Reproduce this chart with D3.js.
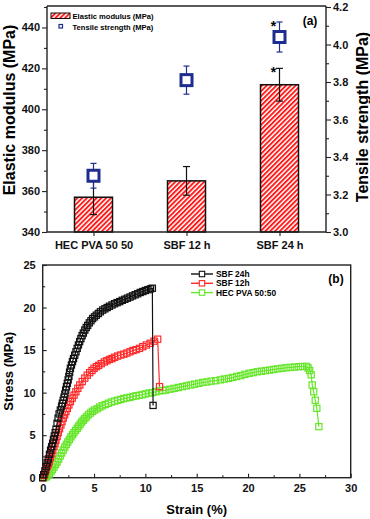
<!DOCTYPE html>
<html><head><meta charset="utf-8">
<script src="https://cdn.jsdelivr.net/npm/d3@7/dist/d3.min.js"></script>
<style>
html,body{margin:0;padding:0;background:#fff;}
svg{display:block;font-family:"Liberation Sans",Arial,sans-serif;font-weight:bold;}
</style></head>
<body><svg id="c" width="370" height="519"></svg>
<script>
// ---------- Panel (a) data ----------
const categories = ["HEC PVA 50 50", "SBF 12 h", "SBF 24 h"];
const modulus = [357, 365, 412];
const modulusErr = [8.5, 7, 8];
const tensile = [3.30, 3.81, 4.04];
const tensileErr = [0.066, 0.075, 0.08];
const significant = [false, false, true];
const modulusTicks = [340, 360, 380, 400, 420, 440];
const modulusMinor = [350, 370, 390, 410, 430, 450];
const tensileTicks = [3.0, 3.2, 3.4, 3.6, 3.8, 4.0, 4.2];
const tensileMinor = [3.1, 3.3, 3.5, 3.7, 3.9, 4.1];

// ---------- Panel (b) data : [strain %, stress MPa] ----------
const sbf24h = [[0,0],[0.1,0.35],[0.22,0.8],[0.33,1.3],[0.44,1.75],[0.55,2.2],[0.66,2.75],[0.77,3.25],[0.87,3.65],[0.97,4.05],[1.05,4.5],[1.13,4.9],[1.22,5.3],[1.3,5.7],[1.4,6.4],[1.5,7.0],[1.6,7.5],[1.72,7.95],[1.84,8.4],[1.92,8.75],[2.0,9.1],[2.08,9.45],[2.16,9.85],[2.24,10.3],[2.32,10.7],[2.4,11.1],[2.48,11.5],[2.55,11.9],[2.62,12.4],[2.7,12.85],[2.8,13.25],[2.9,13.65],[3.0,14.0],[3.12,14.4],[3.24,14.8],[3.36,15.2],[3.48,15.6],[3.6,16.0],[3.72,16.35],[3.84,16.7],[3.96,17.0],[4.1,17.35],[4.24,17.65],[4.38,17.9],[4.54,18.2],[4.7,18.45],[4.86,18.7],[5.04,18.9],[5.22,19.1],[5.42,19.3],[5.62,19.5],[5.84,19.7],[6.06,19.85],[6.28,20.0],[6.5,20.15],[6.75,20.3],[7.0,20.45],[7.25,20.58],[7.5,20.7],[7.75,20.85],[8.0,20.97],[8.25,21.1],[8.5,21.23],[8.75,21.37],[9.0,21.5],[9.25,21.62],[9.5,21.77],[9.75,21.88],[10.0,22.0],[10.25,22.1],[10.5,22.2],[10.68,22.27],[10.75,8.5]];
const sbf12h = [[0,0],[0.11,0.25],[0.22,0.55],[0.33,0.95],[0.45,1.3],[0.55,1.6],[0.64,1.9],[0.75,2.35],[0.87,2.8],[0.98,3.2],[1.1,3.65],[1.2,4.0],[1.29,4.4],[1.4,4.85],[1.51,5.3],[1.64,5.75],[1.77,6.2],[1.88,6.6],[2.0,7.0],[2.13,7.4],[2.26,7.77],[2.4,8.15],[2.55,8.55],[2.7,8.95],[2.87,9.35],[3.05,9.7],[3.23,10.1],[3.42,10.5],[3.61,10.9],[3.85,11.3],[4.1,11.7],[4.34,12.05],[4.58,12.35],[4.8,12.6],[5.0,12.85],[5.23,13.05],[5.45,13.2],[5.7,13.4],[6.0,13.6],[6.25,13.75],[6.5,13.9],[6.75,14.0],[7.0,14.15],[7.3,14.3],[7.6,14.42],[7.9,14.52],[8.2,14.65],[8.5,14.8],[8.8,14.95],[9.1,15.05],[9.43,15.2],[9.75,15.4],[10.1,15.6],[10.47,15.8],[10.85,16.05],[11.2,16.28],[11.38,10.7]];
const hecPva = [[0.2,0.0],[0.35,0.1],[0.5,0.25],[0.65,0.45],[0.8,0.7],[0.95,0.95],[1.1,1.25],[1.25,1.55],[1.4,1.85],[1.55,2.2],[1.7,2.55],[1.85,2.9],[2.0,3.25],[2.15,3.6],[2.3,3.9],[2.45,4.2],[2.6,4.5],[2.75,4.8],[2.9,5.05],[3.05,5.3],[3.2,5.55],[3.36,5.8],[3.5,6.05],[3.65,6.3],[3.8,6.55],[3.95,6.75],[4.1,6.95],[4.26,7.15],[4.45,7.4],[4.65,7.6],[4.85,7.8],[5.05,7.95],[5.3,8.1],[5.55,8.3],[5.8,8.45],[6.1,8.6],[6.4,8.75],[6.7,8.9],[7.0,9.0],[7.3,9.1],[7.6,9.2],[7.9,9.3],[8.2,9.38],[8.5,9.45],[8.8,9.55],[9.1,9.62],[9.4,9.68],[9.7,9.75],[10.0,9.85],[10.35,9.95],[10.7,10.0],[11.0,10.1],[11.35,10.2],[11.7,10.25],[12.0,10.3],[12.4,10.4],[12.8,10.5],[13.2,10.6],[13.6,10.7],[14.0,10.8],[14.4,10.9],[14.8,11.0],[15.2,11.1],[15.6,11.2],[16.0,11.25],[16.4,11.35],[16.85,11.4],[17.3,11.5],[17.7,11.6],[18.1,11.68],[18.5,11.78],[18.9,11.9],[19.3,12.0],[19.7,12.15],[20.1,12.27],[20.5,12.35],[20.9,12.45],[21.3,12.52],[21.7,12.58],[22.1,12.65],[22.5,12.72],[22.9,12.8],[23.3,12.86],[23.7,12.92],[24.1,12.97],[24.5,13.0],[24.9,13.05],[25.3,13.07],[25.7,13.08],[25.85,12.9],[26.0,12.6],[26.15,12.1],[26.25,10.9],[26.4,10.1],[26.55,9.1],[26.7,8.15],[26.9,6.0]];
const seriesNames = ["SBF 24h", "SBF 12h", "HEC PVA 50:50"];
const seriesColors = ["#111111", "#ff2a2a", "#66e62a"];
const strainTicks = [0, 5, 10, 15, 20, 25, 30];
const strainMinor = [2.5, 7.5, 12.5, 17.5, 22.5, 27.5];
const stressTicks = [0, 5, 10, 15, 20, 25];
const stressMinor = [2.5, 7.5, 12.5, 17.5, 22.5];

const svg = d3.select("#c");
const NAVY = "#1f2d8f";
const RED = "#ff1a1a";
const FONT = "Liberation Sans, Arial, sans-serif";

// ---------------- Panel (a) ----------------
const A = {l: 47, r: 326, t: 6, b: 232};
const xA = d3.scalePoint().domain(categories).range([A.l, A.r]).padding(0.5);
const yL = d3.scaleLinear().domain([340, 450]).range([A.b, 7]);
const yR = d3.scaleLinear().domain([3.0, 4.2]).range([A.b, 7]);

const defs = svg.append("defs");
const pat = defs.append("pattern").attr("id", "hatch").attr("patternUnits", "userSpaceOnUse")
  .attr("width", 3.4).attr("height", 3.4).attr("patternTransform", "rotate(45)");
pat.append("rect").attr("width", 3.4).attr("height", 3.4).attr("fill", "#fff");
pat.append("rect").attr("width", 1.9).attr("height", 3.4).attr("fill", RED);

const gA = svg.append("g");
const barW = 38;
gA.selectAll("rect.bar").data(modulus).join("rect").attr("class", "bar")
  .attr("x", (d, i) => xA(categories[i]) - barW / 2).attr("width", barW)
  .attr("y", d => yL(d)).attr("height", d => yL(340) - yL(d))
  .attr("fill", "url(#hatch)").attr("stroke", "#111").attr("stroke-width", 1.5);

modulus.forEach((v, i) => {
  const cx = xA(categories[i]);
  const g = gA.append("g").attr("stroke", "#111").attr("stroke-width", 1.2);
  g.append("line").attr("x1", cx).attr("x2", cx).attr("y1", yL(v + modulusErr[i])).attr("y2", yL(v - modulusErr[i]));
  g.append("line").attr("x1", cx - 3.5).attr("x2", cx + 3.5).attr("y1", yL(v + modulusErr[i])).attr("y2", yL(v + modulusErr[i]));
  g.append("line").attr("x1", cx - 3.5).attr("x2", cx + 3.5).attr("y1", yL(v - modulusErr[i])).attr("y2", yL(v - modulusErr[i]));
});
tensile.forEach((v, i) => {
  const cx = xA(categories[i]);
  const g = gA.append("g").attr("stroke", NAVY).attr("stroke-width", 1.2);
  g.append("line").attr("x1", cx).attr("x2", cx).attr("y1", yR(v + tensileErr[i])).attr("y2", yR(v - tensileErr[i]));
  g.append("line").attr("x1", cx - 3).attr("x2", cx + 3).attr("y1", yR(v + tensileErr[i])).attr("y2", yR(v + tensileErr[i]));
  g.append("line").attr("x1", cx - 3).attr("x2", cx + 3).attr("y1", yR(v - tensileErr[i])).attr("y2", yR(v - tensileErr[i]));
  gA.append("rect").attr("x", cx - 5.5).attr("y", yR(v) - 5.5).attr("width", 11).attr("height", 11)
    .attr("fill", "#fff").attr("stroke", NAVY).attr("stroke-width", 3);
  if (significant[i]) {
    gA.append("text").attr("x", cx - 6).attr("y", yR(v + tensileErr[i]) + 9).attr("text-anchor", "middle")
      .attr("font-size", 14).text("*");
    gA.append("text").attr("x", cx - 6).attr("y", yL(modulus[i] + modulusErr[i]) + 9).attr("text-anchor", "middle")
      .attr("font-size", 14).text("*");
  }
});

gA.append("line").attr("x1", A.l).attr("x2", A.r).attr("y1", A.t).attr("y2", A.t).attr("stroke", "#222").attr("stroke-width", 1.3);
const axL = gA.append("g").attr("transform", `translate(${A.l},0)`)
  .call(d3.axisLeft(yL).tickValues(modulusTicks).tickSize(5).tickPadding(2).tickFormat(d3.format("d")));
gA.append("g").attr("transform", `translate(${A.l},0)`)
  .call(d3.axisLeft(yL).tickValues(modulusMinor).tickSize(3).tickFormat("")).call(g => g.select(".domain").remove());
const axR = gA.append("g").attr("transform", `translate(${A.r},0)`)
  .call(d3.axisRight(yR).tickValues(tensileTicks).tickSize(5).tickPadding(2).tickFormat(d3.format(".1f")));
gA.append("g").attr("transform", `translate(${A.r},0)`)
  .call(d3.axisRight(yR).tickValues(tensileMinor).tickSize(3).tickFormat("")).call(g => g.select(".domain").remove());
const axB = gA.append("g").attr("transform", `translate(0,${A.b})`)
  .call(d3.axisBottom(xA).tickSize(4).tickPadding(5));
[axL, axR, axB].forEach(ax => {
  ax.select(".domain").attr("stroke", "#222").attr("stroke-width", 1.4);
  ax.selectAll("text").attr("font-size", 11).attr("font-weight", "bold").attr("fill", "#111").attr("font-family", FONT);
});
axL.select(".domain").attr("d", `M0,${A.t}V${A.b}`);
axR.select(".domain").attr("d", `M0,${A.t}V${A.b}`);
axB.select(".domain").attr("d", `M${A.l},0H${A.r}`);
gA.selectAll(".tick line").attr("stroke", "#222").attr("stroke-width", 1.1);

gA.append("text").attr("transform", `translate(15,110) rotate(-90)`).attr("text-anchor", "middle")
  .attr("font-size", 16).text("Elastic modulus (MPa)");
gA.append("text").attr("transform", `translate(368,117) rotate(-90)`).attr("text-anchor", "middle")
  .attr("font-size", 16).text("Tensile strength (MPa)");
gA.append("text").attr("x", 310).attr("y", 25).attr("text-anchor", "middle").attr("font-size", 12).text("(a)");

gA.append("rect").attr("x", 51).attr("y", 13).attr("width", 19).attr("height", 5.5)
  .attr("fill", "url(#hatch)").attr("stroke", "#111").attr("stroke-width", 1);
gA.append("text").attr("x", 72.5).attr("y", 18.8).attr("font-size", 7.6).text("Elastic modulus (MPa)");
gA.append("rect").attr("x", 59).attr("y", 24.5).attr("width", 3.5).attr("height", 3.5)
  .attr("fill", "#fff").attr("stroke", NAVY).attr("stroke-width", 1.2);
gA.append("text").attr("x", 72.5).attr("y", 29.5).attr("font-size", 7.6).text("Tensile strength (MPa)");

// ---------------- Panel (b) ----------------
const B = {l: 42.7, r: 350.7, t: 265, b: 477.7};
const xB = d3.scaleLinear().domain([0, 30]).range([B.l, B.r]);
const yB = d3.scaleLinear().domain([0, 25]).range([B.b, B.t]);
const gB = svg.append("g");

gB.append("rect").attr("x", B.l).attr("y", B.t).attr("width", B.r - B.l).attr("height", B.b - B.t)
  .attr("fill", "none").attr("stroke", "#222").attr("stroke-width", 1.4);

const axBx = gB.append("g").attr("transform", `translate(0,${B.b})`)
  .call(d3.axisBottom(xB).tickValues(strainTicks).tickSize(-4).tickPadding(7).tickFormat(d3.format("d")));
gB.append("g").attr("transform", `translate(0,${B.b})`)
  .call(d3.axisBottom(xB).tickValues(strainMinor).tickSize(-2.5).tickFormat("")).call(g => g.select(".domain").remove());
const axBy = gB.append("g").attr("transform", `translate(${B.l},0)`)
  .call(d3.axisLeft(yB).tickValues(stressTicks).tickSize(-4).tickPadding(7).tickFormat(d3.format("d")));
gB.append("g").attr("transform", `translate(${B.l},0)`)
  .call(d3.axisLeft(yB).tickValues(stressMinor).tickSize(-2.5).tickFormat("")).call(g => g.select(".domain").remove());
[axBx, axBy].forEach(ax => {
  ax.select(".domain").remove();
  ax.selectAll("text").attr("font-size", 11).attr("font-weight", "bold").attr("fill", "#111").attr("font-family", FONT);
});
gB.selectAll(".tick line").attr("stroke", "#222").attr("stroke-width", 1.1);

const allSeries = [sbf24h, sbf12h, hecPva];
const line = d3.line().x(d => xB(d[0])).y(d => yB(d[1]));
const M = 6.2;
[2, 1, 0].forEach(k => {
  const g = gB.append("g");
  g.append("path").datum(allSeries[k]).attr("d", line).attr("fill", "none")
    .attr("stroke", seriesColors[k]).attr("stroke-width", 1.2);
  g.selectAll("rect").data(allSeries[k]).join("rect")
    .attr("x", d => xB(d[0]) - M / 2).attr("y", d => yB(d[1]) - M / 2).attr("width", M).attr("height", M)
    .attr("fill", "none").attr("stroke", seriesColors[k]).attr("stroke-width", 1.2);
});

seriesNames.forEach((n, i) => {
  const y = 274 + i * 9.3;
  gB.append("line").attr("x1", 191).attr("x2", 213).attr("y1", y).attr("y2", y)
    .attr("stroke", seriesColors[i]).attr("stroke-width", 1.4);
  gB.append("rect").attr("x", 202 - 2.7).attr("y", y - 2.7).attr("width", 5.4).attr("height", 5.4)
    .attr("fill", "#fff").attr("stroke", seriesColors[i]).attr("stroke-width", 1.1);
  gB.append("text").attr("x", 216).attr("y", y + 3).attr("font-size", 8.4).text(n);
});
gB.append("text").attr("x", 336).attr("y", 283).attr("text-anchor", "middle").attr("font-size", 12).text("(b)");

gB.append("text").attr("x", (B.l + B.r) / 2).attr("y", 514).attr("text-anchor", "middle")
  .attr("font-size", 13).text("Strain (%)");
gB.append("text").attr("transform", `translate(13,${(B.t + B.b) / 2}) rotate(-90)`).attr("text-anchor", "middle")
  .attr("font-size", 13).text("Stress (MPa)");
</script>
</body></html>
